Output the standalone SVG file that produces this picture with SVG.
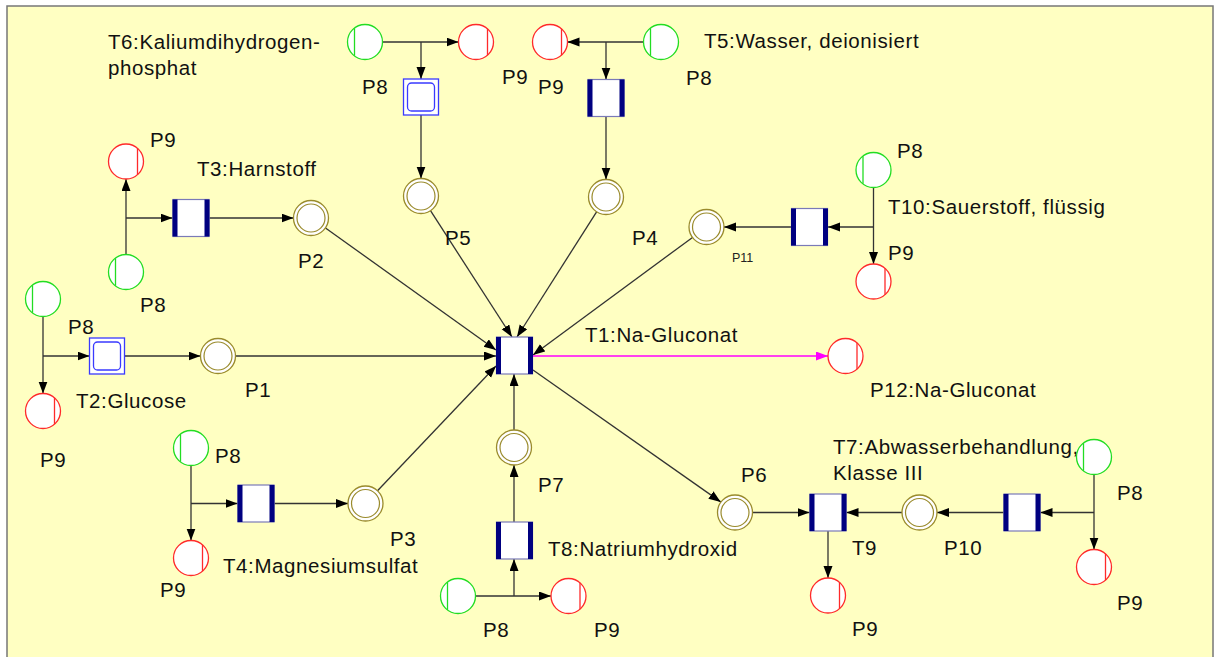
<svg xmlns="http://www.w3.org/2000/svg" xmlns:xlink="http://www.w3.org/1999/xlink" width="1221" height="657" viewBox="0 0 1221 657">
  <style>
    .lbl { font-family: "Liberation Sans", Arial, sans-serif; font-size: 20.5px; fill: #111; letter-spacing: 0.6px; }
    .small { font-size: 12.5px; letter-spacing: 0; fill: #222; }
    .arc { stroke: #333; stroke-width: 1.3; fill: none; marker-end: url(#ah); }
    .out { stroke: #ff00ff; stroke-width: 1.3; fill: none; marker-end: url(#ahp); }
  </style>
  <defs>
    <marker id="ah" markerUnits="userSpaceOnUse" markerWidth="12" markerHeight="10" refX="12" refY="4.5" orient="auto">
      <path d="M0,0 L12,4.5 L0,9 z" fill="#000"/>
    </marker>
    <marker id="ahp" markerUnits="userSpaceOnUse" markerWidth="12" markerHeight="10" refX="12" refY="4.5" orient="auto">
      <path d="M0,0 L12,4.5 L0,9 z" fill="#ff00ff"/>
    </marker>
    <!-- transition: white box with thick navy side bars -->
    <g id="trans">
      <rect x="-18" y="-18.5" width="36" height="37" fill="#fff" stroke="#7a7ab8" stroke-width="1.2"/>
      <rect x="-18.5" y="-18.5" width="5" height="37" fill="#000080"/>
      <rect x="13.5" y="-18.5" width="5" height="37" fill="#000080"/>
    </g>
    <!-- macro transition: double blue square -->
    <g id="macro">
      <rect x="-17.5" y="-18" width="35" height="36" fill="#fff" stroke="#3a3aff" stroke-width="1.3"/>
      <rect x="-13.5" y="-14" width="27" height="28" rx="4" fill="#fff" stroke="#3a3aff" stroke-width="1.3"/>
    </g>
    <!-- intermediate place: double olive circle -->
    <g id="place">
      <circle r="17.5" fill="#fff" stroke="#9a8b2c" stroke-width="1.3"/>
      <circle r="14" fill="none" stroke="#9a8b2c" stroke-width="1.2"/>
    </g>
    <!-- source place (green) -->
    <g id="src">
      <circle r="17.5" fill="#fff" stroke="#22dd22" stroke-width="1.3"/>
      <line x1="-10.5" y1="-13.8" x2="-10.5" y2="13.8" stroke="#22dd22" stroke-width="1.3"/>
    </g>
    <!-- sink place (red) -->
    <g id="sink">
      <circle r="17.5" fill="#fff" stroke="#ff2a2a" stroke-width="1.3"/>
      <line x1="11.5" y1="-13.3" x2="11.5" y2="13.3" stroke="#ff2a2a" stroke-width="1.3"/>
    </g>
  </defs>

  <rect x="0" y="0" width="1221" height="657" fill="#fff"/>
  <rect x="7" y="6" width="1206" height="660" fill="#ffffc2" stroke="#777" stroke-width="1.5"/>

  <!-- connectors -->
  <g id="connectors">
    <!-- T6 -->
    <line class="arc" x1="382.5" y1="42" x2="458.5" y2="42"/>
    <line class="arc" x1="421" y1="42" x2="421" y2="79"/>
    <line class="arc" x1="421" y1="115" x2="421" y2="178.5"/>
    <!-- T5 -->
    <line class="arc" x1="643.5" y1="42" x2="567.5" y2="42"/>
    <line class="arc" x1="606" y1="42" x2="606" y2="79.5"/>
    <line class="arc" x1="606" y1="116.5" x2="606" y2="179.5"/>
    <!-- T3 -->
    <line class="arc" x1="126" y1="254.5" x2="126" y2="179"/>
    <line class="arc" x1="126" y1="218" x2="172.5" y2="218"/>
    <line class="arc" x1="209.5" y1="218" x2="293.5" y2="218"/>
    <!-- T2 -->
    <line class="arc" x1="43" y1="316.5" x2="43" y2="393.5"/>
    <line class="arc" x1="43" y1="356" x2="89.5" y2="356"/>
    <line class="arc" x1="125" y1="356" x2="200.5" y2="356"/>
    <!-- T10 -->
    <line class="arc" x1="873.5" y1="187.5" x2="873.5" y2="264"/>
    <line class="arc" x1="873.5" y1="227" x2="828" y2="227"/>
    <line class="arc" x1="791" y1="227" x2="724" y2="227"/>
    <!-- T4 -->
    <line class="arc" x1="191" y1="465.5" x2="191" y2="540.5"/>
    <line class="arc" x1="191" y1="503.5" x2="237.5" y2="503.5"/>
    <line class="arc" x1="274.5" y1="503.5" x2="348" y2="503.5"/>
    <!-- T8 -->
    <line class="arc" x1="475.5" y1="596" x2="551" y2="596"/>
    <line class="arc" x1="514" y1="596" x2="514" y2="559"/>
    <line class="arc" x1="514" y1="522" x2="514" y2="465"/>
    <!-- into T1 -->
    <line class="arc" x1="514" y1="430" x2="514" y2="374"/>
    <line class="arc" x1="235.5" y1="356" x2="496" y2="356"/>
    <line class="arc" x1="325.5" y1="228" x2="496" y2="350"/>
    <line class="arc" x1="430.5" y1="210.7" x2="512" y2="337"/>
    <line class="arc" x1="596.6" y1="211.8" x2="517" y2="337"/>
    <line class="arc" x1="692.5" y1="237.4" x2="533" y2="355"/>
    <line class="arc" x1="377.5" y1="490.8" x2="496" y2="366"/>
    <!-- out of T1 -->
    <line class="arc" x1="533" y1="370" x2="720.7" y2="501.9"/>
    <line class="out" x1="533" y1="356" x2="828" y2="356"/>
    <!-- T9 / T7 -->
    <line class="arc" x1="752.5" y1="512.5" x2="809.5" y2="512.5"/>
    <line class="arc" x1="902" y1="512.5" x2="846.5" y2="512.5"/>
    <line class="arc" x1="1003.5" y1="512.5" x2="937" y2="512.5"/>
    <line class="arc" x1="1094" y1="512.5" x2="1040.5" y2="512.5"/>
    <line class="arc" x1="1094" y1="474.5" x2="1094" y2="549.5"/>
    <line class="arc" x1="828" y1="531" x2="828" y2="578"/>
  </g>

  <!-- transitions -->
  <g id="T1"><use xlink:href="#trans" x="514.5" y="355.5"/><text class="lbl" x="585" y="342">T1:Na-Gluconat</text></g>
  <g id="T2"><use xlink:href="#macro" x="107" y="356"/><text class="lbl" x="76" y="408">T2:Glucose</text></g>
  <g id="T3"><use xlink:href="#trans" x="191" y="218"/><text class="lbl" x="197" y="176">T3:Harnstoff</text></g>
  <g id="T4"><use xlink:href="#trans" x="256" y="503.5"/><text class="lbl" x="223" y="573">T4:Magnesiumsulfat</text></g>
  <g id="T5"><use xlink:href="#trans" x="606" y="98"/><text class="lbl" x="704" y="48">T5:Wasser, deionisiert</text></g>
  <g id="T6"><use xlink:href="#macro" x="421" y="97"/><text class="lbl" x="108" y="49">T6:Kaliumdihydrogen-</text><text class="lbl" x="108" y="75">phosphat</text></g>
  <g id="T7"><use xlink:href="#trans" x="1022" y="512.5"/><text class="lbl" x="833" y="454">T7:Abwasserbehandlung,</text><text class="lbl" x="833" y="480">Klasse III</text></g>
  <g id="T8"><use xlink:href="#trans" x="514.5" y="540.5"/><text class="lbl" x="548" y="556">T8:Natriumhydroxid</text></g>
  <g id="T9"><use xlink:href="#trans" x="828" y="512.5"/><text class="lbl" x="852" y="555">T9</text></g>
  <g id="T10"><use xlink:href="#trans" x="809.5" y="227"/><text class="lbl" x="888" y="214">T10:Sauerstoff, flüssig</text></g>

  <!-- intermediate places -->
  <g id="P1"><use xlink:href="#place" x="218" y="356"/><text class="lbl" x="245" y="397">P1</text></g>
  <g id="P2"><use xlink:href="#place" x="311" y="218"/><text class="lbl" x="298" y="268">P2</text></g>
  <g id="P3"><use xlink:href="#place" x="365.5" y="503.5"/><text class="lbl" x="390" y="546">P3</text></g>
  <g id="P4"><use xlink:href="#place" x="606" y="197"/><text class="lbl" x="632" y="245">P4</text></g>
  <g id="P5"><use xlink:href="#place" x="421" y="196"/><text class="lbl" x="445" y="245">P5</text></g>
  <g id="P6"><use xlink:href="#place" x="735" y="512.5"/><text class="lbl" x="741" y="482">P6</text></g>
  <g id="P7"><use xlink:href="#place" x="514" y="447.5"/><text class="lbl" x="538" y="492">P7</text></g>
  <g id="P10"><use xlink:href="#place" x="919.5" y="512.5"/><text class="lbl" x="944" y="555">P10</text></g>
  <g id="P11"><use xlink:href="#place" x="706.5" y="227"/><text class="lbl small" x="732" y="262">P11</text></g>
  <g id="P12"><use xlink:href="#sink" x="845.5" y="356"/><text class="lbl" x="870" y="397">P12:Na-Gluconat</text></g>

  <!-- sources (P8) -->
  <g id="P8-T6"><use xlink:href="#src" x="365" y="42"/><text class="lbl" x="362" y="94">P8</text></g>
  <g id="P8-T5"><use xlink:href="#src" x="661" y="42"/><text class="lbl" x="686" y="85">P8</text></g>
  <g id="P8-T3"><use xlink:href="#src" x="126" y="272"/><text class="lbl" x="140" y="312">P8</text></g>
  <g id="P8-T2"><use xlink:href="#src" x="43" y="299"/><text class="lbl" x="68" y="334">P8</text></g>
  <g id="P8-T10"><use xlink:href="#src" x="873.5" y="170"/><text class="lbl" x="897" y="158">P8</text></g>
  <g id="P8-T4"><use xlink:href="#src" x="191" y="448"/><text class="lbl" x="215" y="463">P8</text></g>
  <g id="P8-T8"><use xlink:href="#src" x="458" y="596"/><text class="lbl" x="483" y="637">P8</text></g>
  <g id="P8-T7"><use xlink:href="#src" x="1094" y="457"/><text class="lbl" x="1117" y="500">P8</text></g>

  <!-- sinks (P9) -->
  <g id="P9-T6"><use xlink:href="#sink" x="476" y="42"/><text class="lbl" x="502" y="84">P9</text></g>
  <g id="P9-T5"><use xlink:href="#sink" x="550" y="42"/><text class="lbl" x="538" y="94">P9</text></g>
  <g id="P9-T3"><use xlink:href="#sink" x="126" y="161.5"/><text class="lbl" x="150" y="147">P9</text></g>
  <g id="P9-T2"><use xlink:href="#sink" x="43" y="411"/><text class="lbl" x="40" y="467">P9</text></g>
  <g id="P9-T10"><use xlink:href="#sink" x="873.5" y="281.5"/><text class="lbl" x="888" y="260">P9</text></g>
  <g id="P9-T4"><use xlink:href="#sink" x="191" y="558"/><text class="lbl" x="160" y="597">P9</text></g>
  <g id="P9-T8"><use xlink:href="#sink" x="568.5" y="596"/><text class="lbl" x="594" y="637">P9</text></g>
  <g id="P9-T9"><use xlink:href="#sink" x="828" y="595.5"/><text class="lbl" x="852" y="636">P9</text></g>
  <g id="P9-T7"><use xlink:href="#sink" x="1094" y="567"/><text class="lbl" x="1117" y="610">P9</text></g>
</svg>
